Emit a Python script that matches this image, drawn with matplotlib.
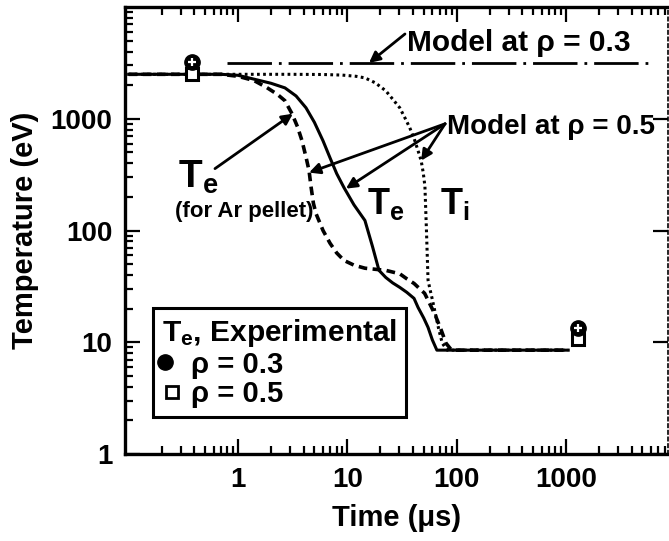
import matplotlib
matplotlib.use("Agg")
import matplotlib.pyplot as plt
from matplotlib.lines import Line2D
from matplotlib.legend_handler import HandlerTuple

plt.rcParams['font.family'] = ['Liberation Sans', 'DejaVu Sans']
plt.rcParams['font.weight'] = 'bold'
plt.rcParams['axes.labelweight'] = 'bold'
plt.rcParams['mathtext.default'] = 'regular'

# model Te at rho = 0.5 (solid)
t_te = [0.1, 0.7, 1.0, 1.37, 2.0, 2.69, 3.4, 4.19, 5.0, 5.99, 7.0, 8.0, 9.33, 11.5, 14.5, 17,
        19.5, 22.5, 26, 30.2, 35, 40.8, 44.4, 50, 54.8, 60, 66, 1050]
T_te = [2500, 2500, 2450, 2275, 2080, 1890, 1600, 1254, 930, 637, 440, 323, 242, 170, 123, 72,
        44, 38, 34, 31, 28, 24.7, 20.5, 16.5, 13.6, 10.5, 8.5, 8.5]

# model Te for Ar pellet (dashed)
t_ar = [0.1, 0.7, 1.0, 1.4, 1.84, 2.3, 2.69, 3.12, 3.5, 3.85, 4.2, 4.47, 4.65, 4.9, 5.17, 6.0,
        6.95, 8.0, 9.33, 11.5, 14.5, 18, 22.5, 30.2, 35, 40.8, 51, 63, 72, 80, 90, 1050]
T_ar = [2500, 2500, 2400, 2200, 1900, 1650, 1450, 1110, 850, 637, 450, 343, 250, 175, 142, 100,
        77, 63, 54, 49, 46, 45, 44, 41, 37, 33.6, 27.4, 18, 13, 9.8, 8.5, 8.5]

# model Ti at rho = 0.5 (dotted)
t_ti = [0.1, 1, 3, 6, 9, 12, 14.5, 18, 22.5, 26, 30.2, 34, 37.3, 41, 44.4, 47.4, 49.5, 51.3,
        53, 54.8, 57, 59.5, 64, 69, 74, 82, 1050]
T_ti = [2500, 2500, 2500, 2490, 2460, 2400, 2323, 2100, 1780, 1500, 1254, 1000, 830, 660, 518,
        422, 330, 250, 100, 36, 30, 25, 18, 12.8, 9.8, 8.5, 8.5]

# model at rho = 0.3 (dash-dot)
t_m3 = [0.79, 6300]
T_m3 = [3160, 3160]

# experimental Te
t_exp = [0.38, 1290]
T_exp03 = [3230, 13.3]
T_exp05 = [2500, 10.6]

fig = plt.figure(figsize=(6.69, 5.41), dpi=100)
ax = fig.add_axes([0.1868, 0.1608, 0.8117, 0.8262])

ax.plot(t_m3, T_m3, color='k', lw=2, linestyle=(0, (16, 2.5, 1, 2.5)))
ax.plot(t_ti, T_ti, color='k', lw=2.2, linestyle=(0, (0.9, 1.1)))
ax.plot(t_ar, T_ar, color='k', lw=2.6, linestyle=(0, (2.4, 1.5)))
ax.plot(t_te, T_te, color='k', lw=2.2)

ax.plot(t_exp, T_exp05, 's', ms=9, mfc='w', mec='k', mew=2.2, zorder=5)
ax.plot(t_exp, T_exp03, 'o', ms=11, mfc='k', mec='k', zorder=6)
ax.plot(t_exp, T_exp03, '+', ms=6, mew=1.6, color='w', zorder=7)

ax.set_xscale('log')
ax.set_yscale('log')
ax.set_xlim(0.0925, 8590)
ax.set_ylim(1, 1e4)
ax.set_xticks([1, 10, 100, 1000])
ax.set_xticklabels(['1', '10', '100', '1000'])
ax.set_yticks([1, 10, 100, 1000])
ax.set_yticklabels(['1', '10', '100', '1000'])

ax.tick_params(which='both', direction='in', top=True, right=True, labelsize=20, width=1.6)
ax.tick_params(which='major', length=11, pad=9)
ax.tick_params(which='minor', length=6, right=False)
for side in ['left', 'bottom', 'top']:
    ax.spines[side].set_linewidth(2.4)
ax.spines['right'].set_linewidth(1.2)
ax.spines['right'].set_linestyle((0, (2, 2)))

ax.set_xlabel('Time (\u03bcs)', fontsize=21, labelpad=8)
ax.set_ylabel('Temperature (eV)', fontsize=21, labelpad=8)

arrow = dict(arrowstyle='-|>', color='k', lw=2, mutation_scale=16, shrinkA=0, shrinkB=0)

ax.text(35.2, 4050, 'Model at \u03c1 = 0.3', fontsize=21.5, ha='left', va='baseline')
ax.annotate('', xy=(15.8, 3160), xytext=(33.7, 5740), arrowprops=arrow)

ax.text(81.7, 735, 'Model at \u03c1 = 0.5', fontsize=20, ha='left', va='baseline')
for hx, hy in [(4.47, 330), (9.72, 237), (47.4, 422)]:
    ax.annotate('', xy=(hx, hy), xytext=(78.5, 902), arrowprops=arrow)

ax.text(0.2825, 242, 'T$_e$', fontsize=28, ha='left', va='baseline')
ax.annotate('', xy=(3.18, 1110), xytext=(0.616, 358), arrowprops=arrow)
ax.text(1.135, 148, '(for Ar pellet)', fontsize=16, ha='center', va='center')
ax.text(15.1, 142, 'T$_e$', fontsize=26, ha='left', va='baseline')
ax.text(70.5, 142, 'T$_i$', fontsize=26, ha='left', va='baseline')

h03 = (Line2D([], [], ls='none', marker='o', ms=11, mfc='k', mec='k'),
       Line2D([], [], ls='none', marker='+', ms=7, mew=1.8, color='w'))
h05 = Line2D([], [], ls='none', marker='s', ms=9, mfc='w', mec='k', mew=2)
leg = ax.legend([h03, h05], ['\u03c1 = 0.3', '\u03c1 = 0.5'],
                handler_map={tuple: HandlerTuple(ndivide=None)},
                title='T$_e$, Experimental', title_fontsize=21.5, fontsize=21,
                loc='lower left', bbox_to_anchor=(0.052, 0.083), fancybox=False,
                edgecolor='k', framealpha=1, handlelength=0.7, handletextpad=0.3,
                borderpad=0.3, labelspacing=0.05, borderaxespad=0)
leg.get_frame().set_linewidth(2.2)
leg._legend_box.align = 'left'

fig.savefig('out.png', dpi=100)
